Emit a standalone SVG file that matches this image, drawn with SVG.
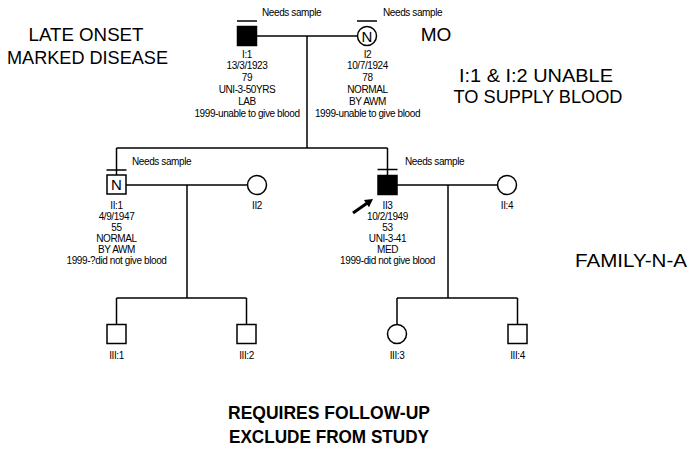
<svg xmlns="http://www.w3.org/2000/svg" width="694" height="450" viewBox="0 0 694 450">
<style>
.ln{stroke:#000;stroke-width:1.5;fill:none}
.sym{stroke:#000;stroke-width:1.5;fill:#fff}
.aff{stroke:#000;stroke-width:1.5;fill:#000}
.s{font-family:"Liberation Sans",Arial,sans-serif;font-size:10px;letter-spacing:-0.4px;fill:#000;text-anchor:middle}
.n{font-family:"Liberation Sans",Arial,sans-serif;font-size:10px;letter-spacing:-0.4px;fill:#000}
.big{font-family:"Liberation Sans",Arial,sans-serif;font-size:19px;fill:#000;text-anchor:middle}
.bold{font-family:"Liberation Sans",Arial,sans-serif;font-size:18px;font-weight:bold;fill:#000;text-anchor:middle}
.sym-n{font-family:"Liberation Sans",Arial,sans-serif;font-size:15px;fill:#000;text-anchor:middle}
</style>
<rect width="694" height="450" fill="#fff"/>
<g id="connectors">
<line class="ln" x1="256.5" y1="36" x2="357.5" y2="36"/>
<line class="ln" x1="307" y1="36" x2="307" y2="148"/>
<line class="ln" x1="116.5" y1="148" x2="387.5" y2="148"/>
<line class="ln" x1="116.5" y1="148" x2="116.5" y2="175"/>
<line class="ln" x1="387.5" y1="148" x2="387.5" y2="175.5"/>
<line class="ln" x1="126" y1="185" x2="247.5" y2="185"/>
<line class="ln" x1="187" y1="185" x2="187" y2="298"/>
<line class="ln" x1="116.5" y1="298" x2="246.5" y2="298"/>
<line class="ln" x1="116.5" y1="298" x2="116.5" y2="324.5"/>
<line class="ln" x1="246.5" y1="298" x2="246.5" y2="324.5"/>
<line class="ln" x1="397" y1="185" x2="497.5" y2="185"/>
<line class="ln" x1="448" y1="185" x2="448" y2="298"/>
<line class="ln" x1="397" y1="298" x2="517.5" y2="298"/>
<line class="ln" x1="397" y1="298" x2="397" y2="324.5"/>
<line class="ln" x1="517.5" y1="298" x2="517.5" y2="324.5"/>
</g>
<g id="I1">
<line class="ln" x1="237" y1="21" x2="257" y2="21"/>
<rect class="aff" x="237.5" y="26.5" width="19" height="19"/>
<text class="n" x="262" y="16">Needs sample</text>
<text class="s" x="247" y="57.5">I:1</text>
<text class="s" x="247" y="69.3">13/3/1923</text>
<text class="s" x="247" y="81.1">79</text>
<text class="s" x="247" y="92.9">UNI-3-50YRS</text>
<text class="s" x="247" y="104.7">LAB</text>
<text class="s" x="247" y="116.5">1999-unable to give blood</text>
</g>
<g id="I2">
<line class="ln" x1="357" y1="21" x2="377" y2="21"/>
<circle class="sym" cx="367" cy="36" r="9.5"/>
<text class="sym-n" x="367" y="41.5">N</text>
<text class="n" x="383" y="16">Needs sample</text>
<text class="s" x="367.5" y="57.5">I2</text>
<text class="s" x="367.5" y="69.3">10/7/1924</text>
<text class="s" x="367.5" y="81.1">78</text>
<text class="s" x="367.5" y="92.9">NORMAL</text>
<text class="s" x="367.5" y="104.7">BY AWM</text>
<text class="s" x="367.5" y="116.5">1999-unable to give blood</text>
</g>
<g id="II1">
<line class="ln" x1="106.5" y1="170" x2="126.5" y2="170"/>
<rect class="sym" x="107" y="175" width="19" height="19"/>
<text class="sym-n" x="116.5" y="190">N</text>
<text class="n" x="132" y="165">Needs sample</text>
<text class="s" x="116.5" y="208.5">II:1</text>
<text class="s" x="116.5" y="219.5">4/9/1947</text>
<text class="s" x="116.5" y="230.5">55</text>
<text class="s" x="116.5" y="241.5">NORMAL</text>
<text class="s" x="116.5" y="252.5">BY AWM</text>
<text class="s" x="116.5" y="263.5">1999-?did not give blood</text>
</g>
<g id="II2">
<circle class="sym" cx="257" cy="185" r="9.5"/>
<text class="s" x="257" y="209">II2</text>
</g>
<g id="II3">
<line class="ln" x1="377.5" y1="169.5" x2="397.5" y2="169.5"/>
<rect class="aff" x="378" y="175.5" width="19" height="19"/>
<text class="n" x="405" y="165">Needs sample</text>
<text class="s" x="387.5" y="208.5">II3</text>
<text class="s" x="387.5" y="219.5">10/2/1949</text>
<text class="s" x="387.5" y="230.5">53</text>
<text class="s" x="387.5" y="241.5">UNI-3-41</text>
<text class="s" x="387.5" y="252.5">MED</text>
<text class="s" x="387.5" y="263.5">1999-did not give blood</text>
</g>
<g id="proband-arrow">
<line x1="353" y1="213" x2="367" y2="203.2" stroke="#000" stroke-width="3"/>
<polygon points="373,199 369,207.3 363.9,199.9" fill="#000"/>
</g>
<g id="II4">
<circle class="sym" cx="507" cy="185" r="9.5"/>
<text class="s" x="507" y="209">II:4</text>
</g>
<g id="III1">
<rect class="sym" x="107" y="324.5" width="19" height="19"/>
<text class="s" x="116.5" y="359">III:1</text>
</g>
<g id="III2">
<rect class="sym" x="237" y="324.5" width="19" height="19"/>
<text class="s" x="246.5" y="359">III:2</text>
</g>
<g id="III3">
<circle class="sym" cx="397" cy="334" r="9.5"/>
<text class="s" x="397" y="359">III:3</text>
</g>
<g id="III4">
<rect class="sym" x="508" y="324.5" width="19" height="19"/>
<text class="s" x="517.5" y="359">III:4</text>
</g>
<g id="notes">
<text class="big" x="86" y="41" textLength="115" lengthAdjust="spacingAndGlyphs">LATE ONSET</text>
<text class="big" x="87.5" y="64" textLength="161" lengthAdjust="spacingAndGlyphs">MARKED DISEASE</text>
<text class="big" x="436" y="40.7">MO</text>
<text class="big" x="536" y="81.5" textLength="154" lengthAdjust="spacingAndGlyphs">I:1 &amp; I:2 UNABLE</text>
<text class="big" x="538" y="103" textLength="169" lengthAdjust="spacingAndGlyphs">TO SUPPLY BLOOD</text>
<text class="big" x="631" y="267" textLength="112" lengthAdjust="spacingAndGlyphs">FAMILY-N-A</text>
<text class="bold" x="329" y="419" textLength="202" lengthAdjust="spacingAndGlyphs">REQUIRES FOLLOW-UP</text>
<text class="bold" x="329" y="443" textLength="200" lengthAdjust="spacingAndGlyphs">EXCLUDE FROM STUDY</text>
</g>
</svg>
